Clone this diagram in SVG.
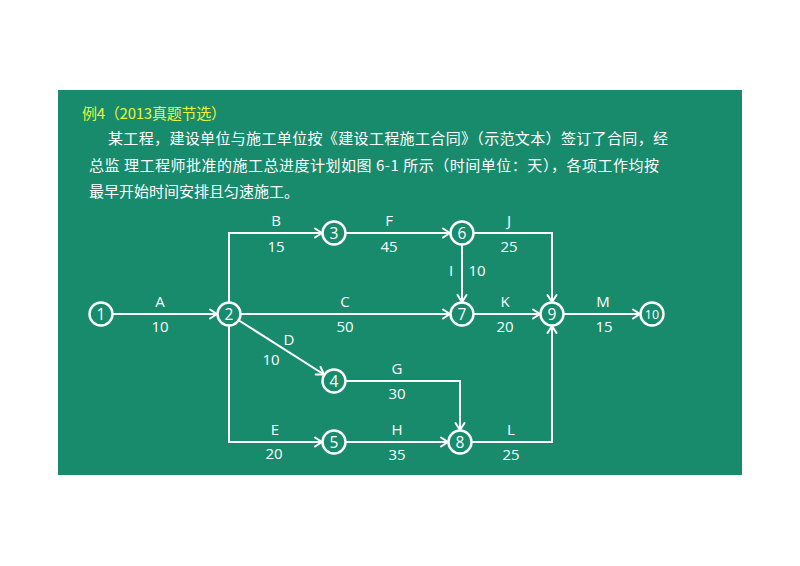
<svg xmlns="http://www.w3.org/2000/svg" width="800" height="566" viewBox="0 0 800 566">
<defs>
<style>
.panel{fill:#188b6c}
.title{font-family:"Noto Sans CJK SC","Noto Sans",sans-serif;font-size:15px;fill:#e9f23c}
.body{font-family:"Noto Sans CJK SC","Noto Sans",sans-serif;font-size:15px;fill:#ffffff}
.node circle{fill:none;stroke:#ffffff;stroke-width:2.4}
.node text{font-family:"Open Sans","Noto Sans",sans-serif;font-size:15.5px;fill:#ffffff;text-anchor:middle}
.lbl{font-family:"Open Sans","Noto Sans",sans-serif;font-size:15px;fill:#ffffff;text-anchor:middle}
.edge{fill:none;stroke:#ffffff;stroke-width:2;marker-end:url(#arr)}
</style>
<marker id="arr" markerUnits="userSpaceOnUse" markerWidth="12" markerHeight="12" refX="9" refY="6" orient="auto">
<path d="M2,1.5 L9,6 L2,10.5" fill="none" stroke="#ffffff" stroke-width="2" stroke-linecap="round" stroke-linejoin="round"/>
</marker>
</defs>
<rect width="800" height="566" fill="#ffffff"/>
<rect class="panel" x="58" y="90" width="684" height="385"/>
<text class="title" x="82" y="119" textLength="144" lengthAdjust="spacing">例4（2013真题节选）</text>
<text class="body" x="108" y="144" textLength="560" lengthAdjust="spacing">某工程，建设单位与施工单位按《建设工程施工合同》（示范文本）签订了合同，经</text>
<text class="body" x="89" y="170.5" textLength="570" lengthAdjust="spacing">总监 理工程师批准的施工总进度计划如图 6-1 所示（时间单位：天），各项工作均按</text>
<text class="body" x="89" y="197">最早开始时间安排且匀速施工。</text>
<g id="connectors">
<path id="eA" class="edge" d="M113,314 H217"/>
<path id="eB" class="edge" d="M229,302 V233 H322"/>
<path id="eC" class="edge" d="M241,314 H450"/>
<path id="eD" class="edge" d="M239,320.5 L324,374.5"/>
<path id="eE" class="edge" d="M229,326 V442 H322"/>
<path id="eF" class="edge" d="M346,233 H450"/>
<path id="eI" class="edge" d="M462,245 V302"/>
<path id="eJ" class="edge" d="M474,233 H552 V302"/>
<path id="eK" class="edge" d="M474,314 H540"/>
<path id="eM" class="edge" d="M564,314 H640"/>
<path id="eG" class="edge" d="M346,381 H460 V430"/>
<path id="eH" class="edge" d="M346,442 H448"/>
<path id="eL" class="edge" d="M472,442 H552 V326"/>
</g>
<g id="labels">
<text class="lbl" x="160" y="307">A</text><text class="lbl" x="160" y="332">10</text>
<text class="lbl" x="276" y="226">B</text><text class="lbl" x="276" y="252">15</text>
<text class="lbl" x="345" y="307">C</text><text class="lbl" x="345" y="332">50</text>
<text class="lbl" x="289" y="344.5">D</text><text class="lbl" x="271" y="365">10</text>
<text class="lbl" x="275" y="435">E</text><text class="lbl" x="274" y="458.5">20</text>
<text class="lbl" x="389" y="226">F</text><text class="lbl" x="389" y="252">45</text>
<text class="lbl" x="397" y="374">G</text><text class="lbl" x="397" y="398.5">30</text>
<text class="lbl" x="397" y="435">H</text><text class="lbl" x="397" y="460">35</text>
<text class="lbl" x="451" y="276">I</text><text class="lbl" x="477" y="276">10</text>
<text class="lbl" x="509" y="226">J</text><text class="lbl" x="509" y="252">25</text>
<text class="lbl" x="505" y="307">K</text><text class="lbl" x="505" y="332">20</text>
<text class="lbl" x="511" y="435">L</text><text class="lbl" x="511" y="460">25</text>
<text class="lbl" x="603" y="307">M</text><text class="lbl" x="604" y="332">15</text>
</g>
<g id="n1" class="node"><circle cx="101" cy="314" r="11.5"/><text x="101" y="319.5">1</text></g>
<g id="n2" class="node"><circle cx="229" cy="314" r="11.5"/><text x="229" y="319.5">2</text></g>
<g id="n3" class="node"><circle cx="334" cy="233" r="11.5"/><text x="334" y="238.5">3</text></g>
<g id="n4" class="node"><circle cx="334" cy="381" r="11.5"/><text x="334" y="386.5">4</text></g>
<g id="n5" class="node"><circle cx="334" cy="442" r="11.5"/><text x="334" y="447.5">5</text></g>
<g id="n6" class="node"><circle cx="462" cy="233" r="11.5"/><text x="462" y="238.5">6</text></g>
<g id="n7" class="node"><circle cx="462" cy="314" r="11.5"/><text x="462" y="319.5">7</text></g>
<g id="n8" class="node"><circle cx="460" cy="442" r="11.5"/><text x="460" y="447.5">8</text></g>
<g id="n9" class="node"><circle cx="552" cy="314" r="11.5"/><text x="552" y="319.5">9</text></g>
<g id="n10" class="node"><circle cx="652" cy="314" r="11.5"/><text x="652" y="318.5" style="font-size:12.5px">10</text></g>
</svg>
